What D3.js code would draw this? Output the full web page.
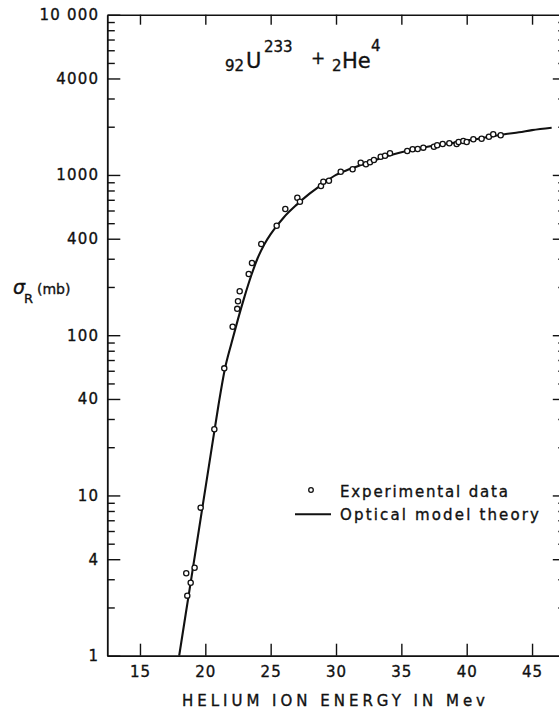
<!DOCTYPE html>
<html>
<head>
<meta charset="utf-8">
<script src="https://cdn.jsdelivr.net/npm/d3@7"></script>
<style>
  html, body { margin: 0; padding: 0; background: #fff; }
  svg { display: block; }
  text { font-family: "DejaVu Sans", "Liberation Sans", sans-serif; fill: #111; stroke: #111; stroke-width: 0.35px; }
</style>
</head>
<body>
<svg id="chart" width="559" height="711"></svg>
<script>
// Reaction cross section of U-233 bombarded by helium ions.

// Measured points: helium ion energy (MeV) and cross section (mb)
const expEnergy = [18.54, 18.62, 18.88, 19.18, 19.64, 20.69, 21.45, 22.09, 22.44, 22.50,
                   22.63, 23.32, 23.57, 24.28, 25.46, 26.12, 27.04, 27.24, 28.85, 29.03,
                   29.46, 30.36, 31.27, 31.89, 32.29, 32.60, 32.90, 33.42, 33.75, 34.13,
                   35.45, 35.86, 36.25, 36.68, 37.49, 37.74, 38.16, 38.67, 39.23, 39.38,
                   39.74, 40.00, 40.51, 41.14, 41.70, 42.03, 42.60];
const expSigma  = [3.27, 2.37, 2.85, 3.54, 8.39, 25.9, 62.1, 113, 146, 163,
                   188, 241, 282, 371, 482, 613, 721, 681, 853, 908,
                   921, 1047, 1085, 1193, 1165, 1199, 1240, 1300, 1318, 1365,
                   1410, 1446, 1452, 1480, 1501, 1531, 1560, 1576, 1560, 1606,
                   1629, 1606, 1669, 1683, 1733, 1794, 1768];

// Optical model curve
const theoryEnergy = [18.0, 18.5, 19.0, 19.5, 20.0, 20.5, 21.0, 21.5, 22.0, 22.5,
                      23.0, 23.5, 24.0, 24.5, 25.0, 25.5, 26.0, 27.0, 28.0, 29.0,
                      30.0, 31.0, 32.0, 33.0, 34.0, 35.0, 36.0, 37.0, 38.0, 39.0,
                      40.0, 41.0, 42.0, 43.0, 44.0, 45.0, 46.5];
const theorySigma  = [1.0, 1.82, 3.31, 6.03, 11.0, 20.0, 36.3, 61.7, 89.1, 126,
                      174, 234, 302, 367, 427, 484, 543, 653, 767, 881,
                      1000, 1084, 1161, 1239, 1318, 1387, 1445, 1500, 1549, 1585,
                      1641, 1690, 1746, 1799, 1845, 1905, 1972];

// Axis ticks
const energyTicks = [15, 20, 25, 30, 35, 40, 45];
const sigmaTicks = [1, 4, 10, 40, 100, 400, 1000, 4000, 10000];
const sigmaTickLabels = ["1", "4", "10", "40", "100", "400", "1000", "4000", "10 000"];

const svg = d3.select("#chart");

const x = d3.scaleLinear().domain([12.5, 47.2]).range([107.3, 560.8]);
const y = d3.scaleLog().domain([1, 10000]).range([655.7, 14.7]);

// minor ticks at 2,3,5..9 of every decade
const minorTicks = [];
[1, 10, 100, 1000].forEach(d => [2, 3, 5, 6, 7, 8, 9].forEach(m => minorTicks.push(d * m)));
const rightMajor = sigmaTicks.filter(v => v > 1 && v < 10000);

function styleAxis(g, w) {
  g.selectAll("path.domain").attr("stroke", "#111").attr("stroke-width", w);
  g.selectAll(".tick line").attr("stroke", "#111").attr("stroke-width", 1.4);
}

// bottom axis, ticks pointing inward
const gB = svg.append("g").attr("transform", `translate(0,${y(1)})`)
  .call(d3.axisBottom(x).tickValues(energyTicks).tickSizeInner(-12).tickSizeOuter(0).tickPadding(11)
        .tickFormat(d3.format("d")));
styleAxis(gB, 1.8);
gB.selectAll(".tick text").attr("font-size", 15).attr("letter-spacing", 1).attr("fill", "#111");

// top border with matching ticks
const gT = svg.append("g").attr("transform", `translate(0,${y(10000)})`)
  .call(d3.axisTop(x).tickValues(energyTicks).tickSizeInner(-10).tickSizeOuter(0).tickFormat(""));
styleAxis(gT, 1.5);

// left axis
const gL = svg.append("g").attr("transform", `translate(${x(12.5)},0)`)
  .call(d3.axisLeft(y).tickValues(sigmaTicks).tickSizeInner(-13).tickSizeOuter(0).tickPadding(8)
        .tickFormat(d => sigmaTickLabels[sigmaTicks.indexOf(d)]));
styleAxis(gL, 1.8);
gL.selectAll(".tick text").attr("font-size", 15).attr("letter-spacing", 1.2).attr("fill", "#111");

const gLm = svg.append("g").attr("transform", `translate(${x(12.5)},0)`)
  .call(d3.axisLeft(y).tickValues(minorTicks).tickSizeInner(-7.5).tickSizeOuter(0).tickFormat(""));
gLm.select("path.domain").remove();
styleAxis(gLm, 1.4);

// right axis
const gR = svg.append("g").attr("transform", `translate(${x(47.2)},0)`)
  .call(d3.axisRight(y).tickValues(rightMajor).tickSizeInner(-8).tickSizeOuter(0).tickFormat(""));
styleAxis(gR, 1.5);
const gRm = svg.append("g").attr("transform", `translate(${x(47.2)},0)`)
  .call(d3.axisRight(y).tickValues(minorTicks).tickSizeInner(-2.5).tickSizeOuter(0).tickFormat(""));
gRm.select("path.domain").remove();
styleAxis(gRm, 1.4);

// theory curve
const line = d3.line()
  .x((d, i) => x(theoryEnergy[i]))
  .y((d, i) => y(theorySigma[i]))
  .curve(d3.curveMonotoneX);
svg.append("path")
  .attr("d", line(theoryEnergy))
  .attr("fill", "none").attr("stroke", "#111").attr("stroke-width", 2.1);

// measured points
svg.append("g").selectAll("circle")
  .data(expEnergy)
  .join("circle")
  .attr("cx", (d, i) => x(expEnergy[i]))
  .attr("cy", (d, i) => y(expSigma[i]))
  .attr("r", 2.6)
  .attr("fill", "#fff").attr("stroke", "#111").attr("stroke-width", 1.3);

// axis titles
svg.append("text")
  .attr("x", 182).attr("y", 706)
  .attr("font-size", 15)
  .attr("textLength", 303).attr("lengthAdjust", "spacing")
  .text("HELIUM ION ENERGY IN Mev");

const yl = svg.append("text").attr("y", 294);
yl.append("tspan").attr("x", 13).attr("font-size", 19).attr("font-style", "italic").text("σ");
yl.append("tspan").attr("x", 24).attr("dy", 9).attr("font-size", 13).text("R");
yl.append("tspan").attr("x", 37).attr("dy", -9).attr("font-size", 14).text("(mb)");

// reaction label
function addText(txt, px, py, size) {
  svg.append("text").attr("x", px).attr("y", py).attr("font-size", size).text(txt);
}
addText("92", 225, 71, 15);
addText("U", 246, 68, 21);
addText("233", 264, 52, 15);
addText("+", 311, 64, 17);
addText("2", 332, 71, 15);
addText("He", 342, 68, 21);
addText("4", 371, 51, 15);

// legend
svg.append("circle").attr("cx", 311).attr("cy", 490).attr("r", 2.3)
  .attr("fill", "#fff").attr("stroke", "#111").attr("stroke-width", 1.3);
svg.append("text").attr("x", 340).attr("y", 497).attr("font-size", 15)
  .attr("textLength", 168).attr("lengthAdjust", "spacing").text("Experimental data");
svg.append("line").attr("x1", 295).attr("x2", 331).attr("y1", 514.3).attr("y2", 514.3)
  .attr("stroke", "#111").attr("stroke-width", 2.1);
svg.append("text").attr("x", 340).attr("y", 520).attr("font-size", 15)
  .attr("textLength", 199).attr("lengthAdjust", "spacing").text("Optical model theory");
</script>
</body>
</html>
